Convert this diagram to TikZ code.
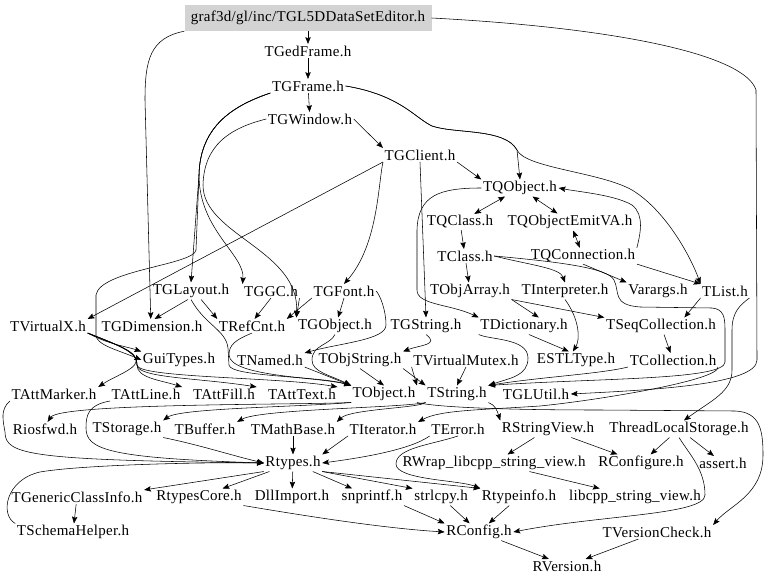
\documentclass[tikz,border=0pt]{standalone}
\usepackage{fontspec}
\setmainfont{Liberation Serif}[LetterSpace=2]
\usepackage{tikz}
\usetikzlibrary{arrows.meta}
\definecolor{rootfill}{HTML}{D3D3D3}

\begin{document}
\begin{tikzpicture}[x=1pt,y=-1pt,
  file/.style={inner sep=1.5pt,font=\fontsize{15}{17}\selectfont},
  rootfile/.style={file,fill=rootfill,minimum width=247pt,minimum height=26pt,inner sep=0pt},
  dep/.style={-{Stealth[length=2.4mm,width=1.9mm,inset=0.4mm]},line width=0.55pt},
  mutual/.style={{Stealth[length=2.4mm,width=1.9mm,inset=0.4mm]}-{Stealth[length=2.4mm,width=1.9mm,inset=0.4mm]},line width=0.55pt}
]
\useasboundingbox (0,0) rectangle (768,585);
\node[rootfile] (root) at (308,18) {graf3d/gl/inc/TGL5DDataSetEditor.h};
\node[file] (gedframe) at (308,51) {TGedFrame.h};
\node[file] (gframe) at (308,86) {TGFrame.h};
\node[file] (gwindow) at (310,119) {TGWindow.h};
\node[file] (gclient) at (420,155) {TGClient.h};
\node[file] (qobject) at (520,188) {TQObject.h};
\node[file] (qclass) at (460,222) {TQClass.h};
\node[file] (qemit) at (570,222) {TQObjectEmitVA.h};
\node[file] (tclass) at (465,256) {TClass.h};
\node[file] (qconn) at (583,256) {TQConnection.h};
\node[file] (glayout) at (191,291) {TGLayout.h};
\node[file] (ggc) at (271,291) {TGGC.h};
\node[file] (gfont) at (344,291) {TGFont.h};
\node[file] (objarray) at (470,291) {TObjArray.h};
\node[file] (interp) at (565,291) {TInterpreter.h};
\node[file] (varargs) at (658,291) {Varargs.h};
\node[file] (tlist) at (725,291) {TList.h};
\node[file] (virtx) at (48,326) {TVirtualX.h};
\node[file] (gdim) at (152,326) {TGDimension.h};
\node[file] (refcnt) at (252,326) {TRefCnt.h};
\node[file] (gobject) at (335,326) {TGObject.h};
\node[file] (gstring) at (426,326) {TGString.h};
\node[file] (dict) at (524,326) {TDictionary.h};
\node[file] (seqcoll) at (661,326) {TSeqCollection.h};
\node[file] (guitypes) at (179,360) {GuiTypes.h};
\node[file] (named) at (270,360) {TNamed.h};
\node[file] (objstring) at (360,360) {TObjString.h};
\node[file] (vmutex) at (466,360) {TVirtualMutex.h};
\node[file] (estl) at (576,360) {ESTLType.h};
\node[file] (coll) at (673,360) {TCollection.h};
\node[file] (attmarker) at (54,394) {TAttMarker.h};
\node[file] (attline) at (146,394) {TAttLine.h};
\node[file] (attfill) at (224,394) {TAttFill.h};
\node[file] (atttext) at (302,394) {TAttText.h};
\node[file] (tobject) at (384,394) {TObject.h};
\node[file] (tstring) at (457,394) {TString.h};
\node[file] (glutil) at (536,394) {TGLUtil.h};
\node[file] (iosfwd) at (45,429) {Riosfwd.h};
\node[file] (storage) at (127,429) {TStorage.h};
\node[file] (buffer) at (205,429) {TBuffer.h};
\node[file] (mathbase) at (293,429) {TMathBase.h};
\node[file] (iterator) at (383,429) {TIterator.h};
\node[file] (terror) at (458,429) {TError.h};
\node[file] (strview) at (548,429) {RStringView.h};
\node[file] (tls) at (679,429) {ThreadLocalStorage.h};
\node[file] (rtypes) at (293,463) {Rtypes.h};
\node[file] (rwrap) at (494,463) {RWrap\_libcpp\_string\_view.h};
\node[file] (rconfigure) at (641,463) {RConfigure.h};
\node[file] (assert) at (723,463) {assert.h};
\node[file] (genclass) at (77,497) {TGenericClassInfo.h};
\node[file] (rtcore) at (199,497) {RtypesCore.h};
\node[file] (dllimport) at (292,497) {DllImport.h};
\node[file] (snprintf) at (372,497) {snprintf.h};
\node[file] (strlcpy) at (441,497) {strlcpy.h};
\node[file] (rtinfo) at (519,497) {Rtypeinfo.h};
\node[file] (libcpp) at (635,497) {libcpp\_string\_view.h};
\node[file] (schema) at (73,532) {TSchemaHelper.h};
\node[file] (rconfig) at (479,532) {RConfig.h};
\node[file] (vcheck) at (657,532) {TVersionCheck.h};
\node[file] (rversion) at (567,566) {RVersion.h};

\draw[dep] (root) -- (gedframe);
\draw[dep] (gedframe) -- (gframe);
\draw[dep] (gframe) -- (gwindow);
\draw[dep] (gwindow.east) -- (gclient.north west);
\draw[dep] (gclient.south east) -- (qobject.north west);
\draw[dep] (gframe.east) .. controls (400,95) and (415,118) .. (432,126) .. controls (455,134) and (505,128) .. (517,150) -- (qobject.north);
\draw[dep] (gframe.east) .. controls (400,95) and (415,118) .. (432,126) .. controls (455,134) and (505,128) .. (517,150) .. controls (525,168) and (600,172) .. (632,190) .. controls (665,210) and (690,255) .. (tlist.north west);
\draw[dep] (root.east) .. controls (620,28) and (745,55) .. (756,90) -- (757,360) .. controls (757,385) and (650,390) .. (glutil.east);
\draw[dep] (root.south west) .. controls (150,38) and (145,60) .. (145,100) -- (gdim.100);
\draw[dep] (gframe.south west) .. controls (235,105) and (200,125) .. (199,175) -- (glayout.north);
\draw[dep] (gframe.south west) .. controls (235,105) and (200,125) .. (199,175) .. controls (199,230) and (245,255) .. (ggc.north west);
\draw[dep] (gframe.south west) .. controls (235,105) and (200,125) .. (199,175) -- (196,250) .. controls (194,265) and (100,270) .. (96,295) -- (96,335) .. controls (96,345) and (118,350) .. (guitypes.west);
\draw[dep] (gwindow.west) .. controls (230,128) and (204,145) .. (203,185) .. controls (203,235) and (300,250) .. (gobject.north west);
\draw[dep] (gclient.south west) -- (virtx.north east);
\draw[dep] (gclient.south west) .. controls (378,185) and (378,245) .. (gfont.north);
\draw[dep] (gclient.south) -- (gstring.north);
\draw[mutual] (qobject) -- (qclass);
\draw[mutual] (qobject) -- (qemit);
\draw[mutual] (qemit) -- (qconn);
\draw[dep] (qconn.north east) .. controls (640,235) and (645,215) .. (632,205) .. controls (615,195) and (580,192) .. (qobject.east);
\draw[dep] (qobject.west) .. controls (440,188) and (418,195) .. (417,230) -- (417,290) .. controls (417,305) and (450,304) .. (dict.north west);
\draw[dep] (qclass) -- (tclass);
\draw[dep] (tclass) -- (objarray);
\draw[dep] (tclass.east) .. controls (530,265) and (560,268) .. (interp.north);
\draw[dep] (tclass.east) .. controls (560,262) and (608,268) .. (614,280) .. controls (620,292) and (612,305) .. (640,307) -- (712,308) .. controls (724,309) and (725,318) .. (725,330) -- (725,362) .. controls (725,380) and (600,378) .. (tstring.north east);
\draw[dep] (qconn.south) -- (varargs.north west);
\draw[dep] (qconn.south east) -- (tlist.north west);
\draw[dep] (objarray.south east) -- (seqcoll.north west);
\draw[dep] (objarray.south east) -- (dict.30);
\draw[dep] (interp.south) .. controls (580,320) and (580,340) .. (estl.110);
\draw[dep] (dict.-60) -- (estl.130);
\draw[dep] (seqcoll) -- (coll);
\draw[dep] (tlist.south west) -- (seqcoll.20);
\draw[dep] (tlist.south east) .. controls (740,305) and (732,312) .. (732,330) -- (732,370) .. controls (732,392) and (712,400) .. (tls.60);
\draw[dep] (coll.south west) .. controls (600,374) and (540,377) .. (tstring.north east);
\draw[dep] (coll.south east) .. controls (720,380) and (600,400) .. (540,406) .. controls (480,410) and (440,410) .. (iterator.north east);
\draw[dep] (gstring.south) .. controls (440,345) and (420,345) .. (objstring.north east);
\draw[dep] (dict.south west) .. controls (490,340) and (528,338) .. (528,358) .. controls (528,376) and (510,378) .. (tstring.north east);
\draw[dep] (vmutex.south west) -- (tobject.north east);
\draw[dep] (vmutex.south) -- (tstring.north);
\draw[dep] (objstring.south east) -- (tstring.north west);
\draw[dep] (objstring.south) -- (tobject.north);
\draw[dep] (named.south east) -- (tobject.north west);
\draw[dep] (glayout.250) -- (gdim.70);
\draw[dep] (glayout.-40) -- (refcnt.north west);
\draw[dep] (ggc.south) -- (refcnt.70);
\draw[dep] (ggc.south east) -- (gobject.north west);
\draw[dep] (gfont.south west) -- (refcnt.north east);
\draw[dep] (gfont.south) -- (gobject.70);
\draw[dep] (gfont.east) .. controls (380,295) and (386,310) .. (386,325) .. controls (386,340) and (340,343) .. (named.north east);
\draw[dep] (gobject.south) .. controls (330,345) and (312,345) .. (312,360) .. controls (312,372) and (330,375) .. (tobject.north west);
\draw[dep] (glayout.south) .. controls (205,325) and (226,330) .. (228,348) -- (229,365) .. controls (230,377) and (320,376) .. (tobject.north west);
\draw[dep] (refcnt.south) .. controls (235,340) and (229,345) .. (229,355) .. controls (230,377) and (320,377) .. (tobject.north west);
\draw[dep] (virtx.south east) .. controls (110,345) and (125,346) .. (guitypes.north west);
\draw[dep] (virtx.south east) .. controls (120,346) and (138,352) .. (136,362) .. controls (134,370) and (115,376) .. (attmarker.north east);
\draw[dep] (virtx.south east) .. controls (120,346) and (138,352) .. (137,365) .. controls (137,378) and (160,380) .. (attline.north east);
\draw[dep] (virtx.south east) .. controls (120,346) and (138,352) .. (137,365) .. controls (137,378) and (200,378) .. (attfill.north east);
\draw[dep] (virtx.south east) .. controls (120,346) and (138,352) .. (137,365) .. controls (137,378) and (280,377) .. (atttext.north east);
\draw[dep] (tobject.south west) .. controls (300,405) and (60,403) .. (iosfwd.70);
\draw[dep] (tobject.south west) .. controls (300,407) and (180,408) .. (storage.north east);
\draw[dep] (tstring.south west) .. controls (400,408) and (260,409) .. (buffer.north east);
\draw[dep] (tstring.south west) .. controls (420,408) and (350,409) .. (mathbase.north east);
\draw[dep] (tstring.south east) .. controls (495,405) and (497,410) .. (strview.north west);
\draw[dep] (tobject.south east) .. controls (440,408) and (520,410) .. (600,410) -- (735,411) .. controls (760,412) and (763,430) .. (763,455) .. controls (763,495) and (730,505) .. (vcheck.north east);
\draw[dep] (attmarker.south west) .. controls (0,410) and (3,420) .. (5,432) .. controls (5,455) and (30,460) .. (rtypes.west);
\draw[dep] (attline.south west) .. controls (88,405) and (86,415) .. (86,428) .. controls (86,450) and (110,458) .. (rtypes.west);
\draw[dep] (storage.south east) .. controls (200,445) and (230,455) .. (rtypes.west);
\draw[dep] (mathbase) -- (rtypes);
\draw[dep] (iterator.south west) -- (rtypes.north east);
\draw[dep] (terror.south west) .. controls (410,450) and (360,458) .. (rtypes.east);
\draw[dep] (terror.south) .. controls (430,445) and (396,448) .. (396,464) .. controls (396,480) and (460,480) .. (rtinfo.north west);
\draw[dep] (rtypes.south west) -- (genclass.north east);
\draw[dep] (rtypes) -- (rtcore);
\draw[dep] (rtypes) -- (dllimport);
\draw[dep] (rtypes) -- (snprintf);
\draw[dep] (rtypes.south east) -- (strlcpy.north west);
\draw[dep] (rtypes.south east) -- (rtinfo.north west);
\draw[dep] (genclass) -- (schema);
\draw[dep] (schema.north west) .. controls (0,515) and (5,480) .. (40,472) .. controls (80,465) and (200,462) .. (rtypes.west);
\draw[dep] (rtcore.south east) .. controls (300,515) and (380,528) .. (rconfig.west);
\draw[dep] (snprintf.south east) -- (rconfig.north west);
\draw[dep] (strlcpy) -- (rconfig);
\draw[dep] (rtinfo) -- (rconfig);
\draw[dep] (strview) -- (rwrap);
\draw[dep] (strview) -- (rconfigure);
\draw[dep] (rwrap) -- (libcpp);
\draw[dep] (tls) -- (rconfigure);
\draw[dep] (tls) -- (assert);
\draw[dep] (tls.south) .. controls (690,455) and (705,470) .. (705,495) .. controls (705,515) and (600,515) .. (rconfig.east);
\draw[dep] (rconfig) -- (rversion);
\draw[dep] (vcheck) -- (rversion);
\end{tikzpicture}
\end{document}
